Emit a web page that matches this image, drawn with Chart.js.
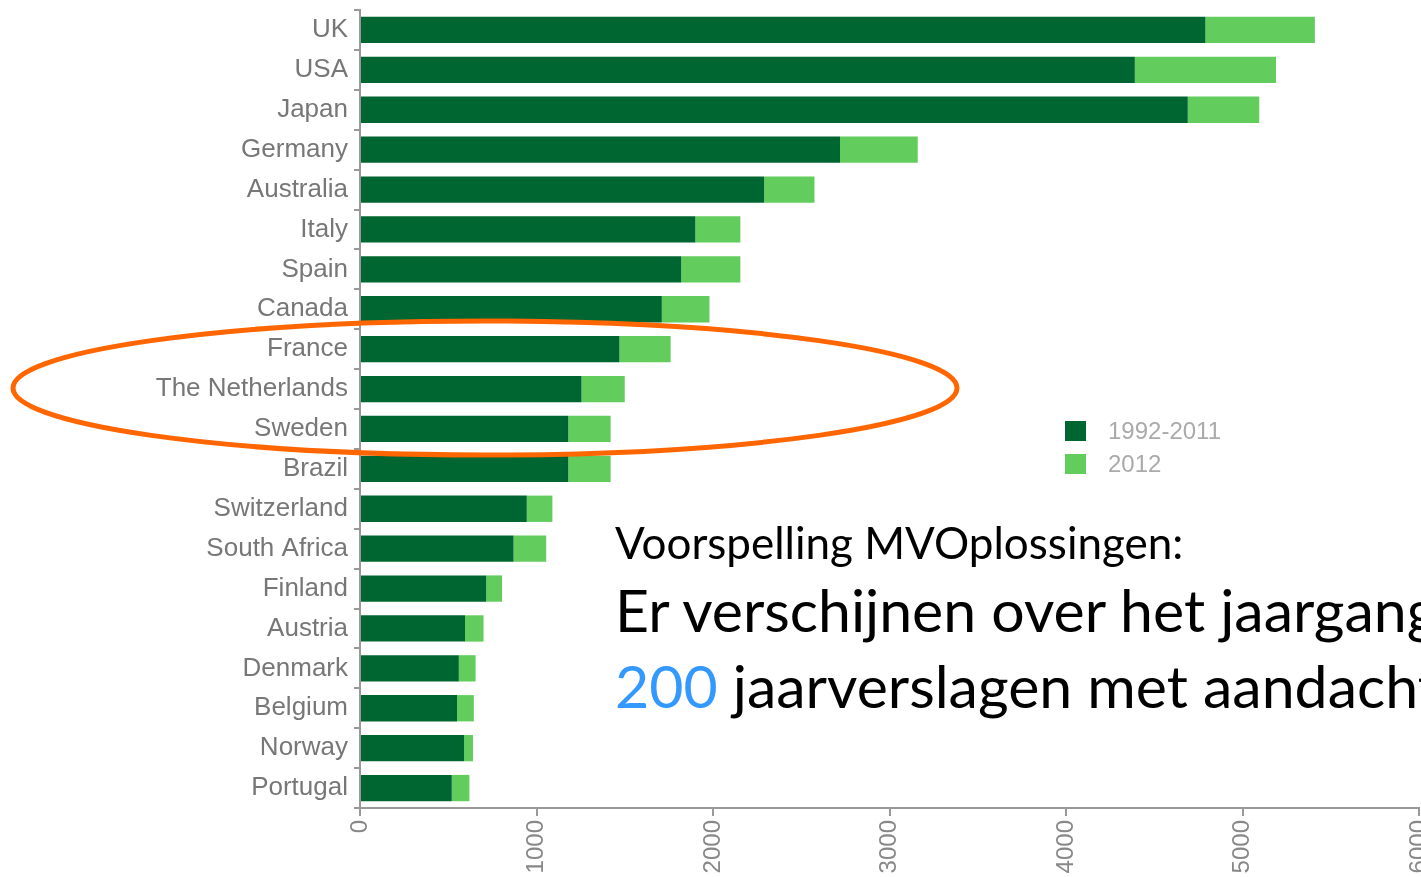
<!DOCTYPE html>
<html>
<head>
<meta charset="utf-8">
<script src="https://cdn.jsdelivr.net/npm/chart.js@4.4.1/dist/chart.umd.min.js"></script>
<style>
  html, body { margin: 0; padding: 0; background: #fff; overflow: hidden; }
  #wrap { position: relative; width: 1421px; height: 877px; overflow: hidden; }
  #chart { position: absolute; left: 0; top: 0; }
  #ring { position: absolute; left: 0; top: 0; pointer-events: none; }
  .note { position: absolute; white-space: nowrap; font-family: Lato, "Open Sans", sans-serif; color: #000; }
  .blue { color: #3399ff; }
</style>
</head>
<body>
<div id="wrap">
  <canvas id="chart" width="1421" height="877"></canvas>
  <svg id="ring" width="1421" height="877">
    <ellipse cx="485" cy="388" rx="472" ry="67" fill="none" stroke="#ff6600" stroke-width="5"></ellipse>
  </svg>
  <div class="note" style="left:615px; top:516px; font-size:44px;">Voorspelling MVOplossingen:</div>
  <div class="note" style="left:615px; top:574px; font-size:59px;">Er verschijnen over het jaargang</div>
  <div class="note" style="left:615px; top:650px; font-size:59px;"><span class="blue">200</span> jaarverslagen met aandacht</div>
</div>
<script>
// data
const countries = ["UK", "USA", "Japan", "Germany", "Australia", "Italy", "Spain", "Canada",
  "France", "The Netherlands", "Sweden", "Brazil", "Switzerland", "South Africa", "Finland",
  "Austria", "Denmark", "Belgium", "Norway", "Portugal"];
const upTo2011 = [4790, 4390, 4690, 2720, 2290, 1900, 1820, 1710, 1470, 1255, 1180, 1180, 945, 870, 715, 595, 560, 550, 590, 520];
const in2012 = [620, 800, 405, 440, 285, 255, 335, 270, 290, 245, 240, 240, 145, 185, 90, 105, 95, 95, 50, 100];
const seriesNames = ["1992-2011", "2012"];
const xTicks = [0, 1000, 2000, 3000, 4000, 5000, 6000];

// legend drawn at a free spot on the right, like the original
const sideLegend = {
  id: "sideLegend",
  afterDraw(chart) {
    const ctx = chart.ctx;
    ctx.save();
    ctx.font = "24px 'Liberation Sans', Arial, sans-serif";
    ctx.textBaseline = "middle";
    chart.data.datasets.forEach((ds, i) => {
      const y = 431 + i * 33;
      ctx.fillStyle = ds.backgroundColor;
      ctx.fillRect(1065, y - 10, 21, 20);
      ctx.fillStyle = "#aaaaaa";
      ctx.fillText(ds.label, 1108, y + 1);
    });
    ctx.restore();
  },
};

new Chart(document.getElementById("chart"), {
  type: "bar",
  data: {
    labels: countries,
    datasets: [
      {
        label: seriesNames[0],
        data: upTo2011,
        backgroundColor: "#006631",
        barPercentage: 0.66,
        categoryPercentage: 1,
      },
      {
        label: seriesNames[1],
        data: in2012,
        backgroundColor: "#62cd5d",
        barPercentage: 0.66,
        categoryPercentage: 1,
      },
    ],
  },
  options: {
    indexAxis: "y",
    responsive: false,
    animation: false,
    layout: {
      padding: { top: 10, right: 2, left: 0, bottom: 0 },
    },
    plugins: {
      legend: { display: false },
      tooltip: { enabled: false },
    },
    scales: {
      x: {
        stacked: true,
        min: 0,
        max: 6000,
        afterBuildTicks(scale) {
          scale.ticks = xTicks.map((v) => ({ value: v }));
        },
        afterFit(scale) {
          scale.height = 69;
          scale.paddingLeft = 0;
          scale.paddingRight = 0;
        },
        grid: {
          drawOnChartArea: false,
          tickLength: 8,
          color: "#999999",
          lineWidth: 2,
        },
        border: { color: "#999999", width: 2 },
        ticks: {
          minRotation: 90,
          maxRotation: 90,
          autoSkip: false,
          padding: 4,
          color: "#888888",
          callback: (v) => String(v),
          font: { family: "'Liberation Sans', Arial, sans-serif", size: 24 },
        },
      },
      y: {
        stacked: true,
        afterFit(scale) {
          scale.width = 360;
          scale.paddingTop = 0;
          scale.paddingBottom = 0;
        },
        grid: {
          drawOnChartArea: false,
          offset: true,
          tickLength: 6,
          color: "#999999",
          lineWidth: 2,
        },
        border: { color: "#999999", width: 2 },
        ticks: {
          padding: 6,
          color: "#777777",
          font: { family: "'Liberation Sans', Arial, sans-serif", size: 26 },
        },
      },
    },
  },
  plugins: [sideLegend],
});
</script>
</body>
</html>
